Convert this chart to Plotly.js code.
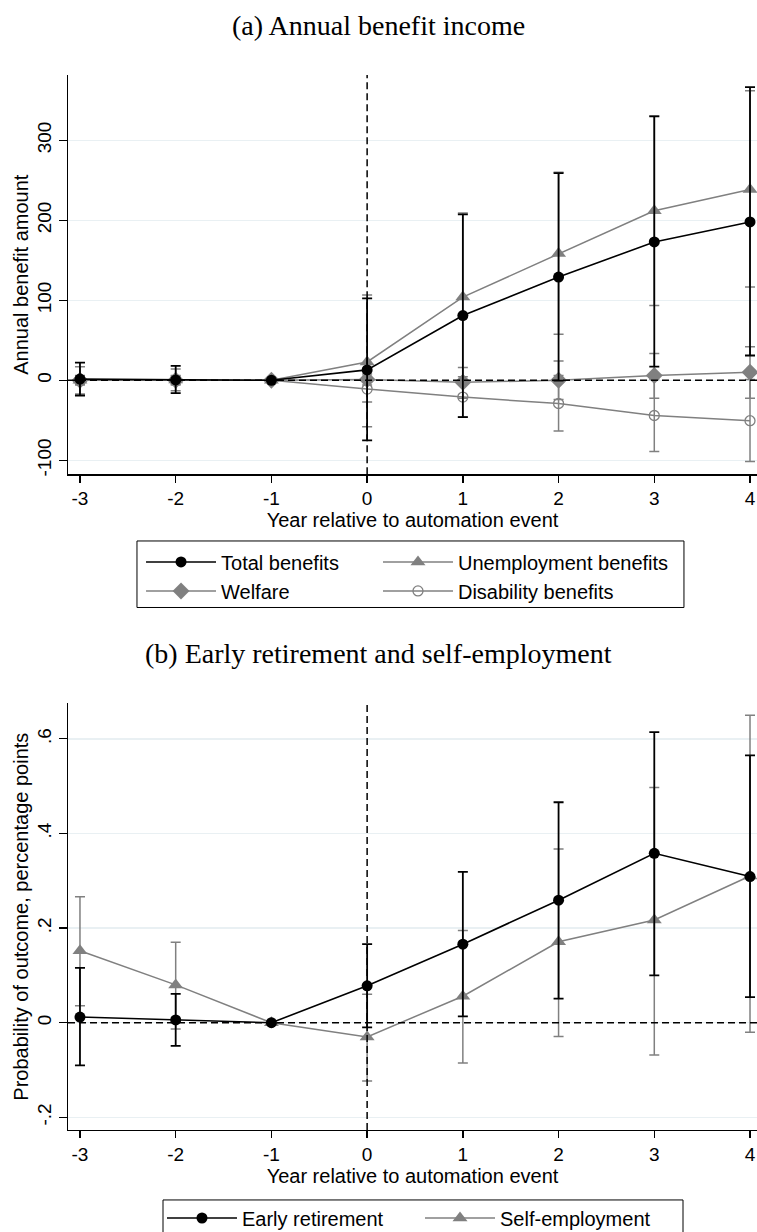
<!DOCTYPE html>
<html>
<head>
<meta charset="utf-8">
<script src="https://cdn.plot.ly/plotly-3.0.1.min.js"></script>
<style>
  html, body { margin: 0; padding: 0; background: #ffffff; }
  #chart { width: 757px; height: 1232px; }
</style>
</head>
<body>
<div id="chart"></div>
<script>
// Event-study estimates by year relative to the automation event
const years = [-3, -2, -1, 0, 1, 2, 3, 4];
const yearLabels = ['-3', '-2', '-1', '0', '1', '2', '3', '4'];

// (a) Annual benefit income: point estimates and 95% CI bounds
const totalBenefits   = [1.5, 0.5, 0, 13, 81, 129, 173, 198];
const totalHi         = [22, 18, null, 102.5, 207.5, 259, 330, 366.5];
const totalLo         = [-19, -16, null, -75, -46, -0.5, 17, 31];

const unemployment    = [0, 0.5, 0, 23, 104, 158.5, 212, 238.5];
const unemploymentHi  = [17, 14, null, 106.5, 209, 260, 330.5, 362];
const unemploymentLo  = [-17, -13, null, -58, -1, 57.5, 93.5, 116.5];

const welfare         = [0, 0, 0, 1, -2.5, 0, 6, 10];
const welfareHi       = [6, 6, null, 8, 16, 24, 33.5, 42];
const welfareLo       = [-6, -6, null, -6, -22.5, -24, -22.5, -22.5];

const disability      = [0, 0, 0, -11, -21, -29, -44, -50.5];
const disabilityHi    = [5, 5, null, 5, 4.5, 6, 1, 1];
const disabilityLo    = [-5, -5, null, -27, -46, -63.5, -89, -101.5];

const benefitTicks     = [-100, 0, 100, 200, 300];
const benefitTickText  = ['-100', '0', '100', '200', '300'];

// (b) Early retirement and self-employment (percentage points)
const earlyRetirement   = [0.012, 0.006, 0, 0.078, 0.166, 0.259, 0.358, 0.309];
const earlyRetirementHi = [0.116, 0.061, null, 0.166, 0.319, 0.466, 0.614, 0.565];
const earlyRetirementLo = [-0.090, -0.049, null, -0.010, 0.0135, 0.051, 0.100, 0.054];

const selfEmployment    = [0.152, 0.080, 0, -0.030, 0.056, 0.171, 0.217, 0.310];
const selfEmploymentHi  = [0.266, 0.170, null, 0.060, 0.195, 0.367, 0.497, 0.650];
const selfEmploymentLo  = [0.036, -0.013, null, -0.123, -0.085, -0.029, -0.068, -0.020];

const probTicks    = [-0.2, 0, 0.2, 0.4, 0.6];
const probTickText = ['-.2', '0', '.2', '.4', '.6'];

const BLACK = '#000000';
const GRAY = '#808080';
const SANS = 'Liberation Sans, Arial, sans-serif';
const SERIF = 'Liberation Serif, Times New Roman, serif';

// Asymmetric error bars from the CI bounds
function ciBars(vals, hi, lo, color, thick) {
  return {
    type: 'data',
    symmetric: false,
    array: vals.map((v, i) => hi[i] == null ? null : hi[i] - v),
    arrayminus: vals.map((v, i) => lo[i] == null ? null : v - lo[i]),
    color: color,
    thickness: thick,
    width: 5
  };
}

function series(name, vals, hi, lo, color, symbol, size, rank, xa, ya, legendId, lineW, barW, open) {
  return {
    type: 'scatter',
    mode: 'lines+markers',
    name: name,
    x: years,
    y: vals,
    xaxis: xa,
    yaxis: ya,
    legend: legendId,
    legendrank: rank,
    line: { color: color, width: lineW },
    marker: open
      ? { symbol: symbol, size: size, color: color, line: { color: color, width: 1.3 } }
      : { symbol: symbol, size: size, color: color, line: { width: 0 } },
    error_y: ciBars(vals, hi, lo, color, barW),
    hoverinfo: 'x+y+name'
  };
}

// Each legend column is its own legend so the two-column key lines up
const traces = [
  // grey series first so black estimates sit on top
  series('Disability benefits', disability, disabilityHi, disabilityLo, GRAY, 'circle-open', 10, 2, 'x', 'y', 'legend2', 1.5, 1.5, true),
  series('Welfare', welfare, welfareHi, welfareLo, GRAY, 'diamond', 13, 2, 'x', 'y', 'legend', 1.5, 1.5, false),
  series('Unemployment benefits', unemployment, unemploymentHi, unemploymentLo, GRAY, 'triangle-up', 13, 1, 'x', 'y', 'legend2', 1.5, 1.5, false),
  series('Total benefits', totalBenefits, totalHi, totalLo, BLACK, 'circle', 11, 1, 'x', 'y', 'legend', 1.6, 1.8, false),

  series('Self-employment', selfEmployment, selfEmploymentHi, selfEmploymentLo, GRAY, 'triangle-up', 13, 1, 'x2', 'y2', 'legend4', 1.5, 1.5, false),
  series('Early retirement', earlyRetirement, earlyRetirementHi, earlyRetirementLo, BLACK, 'circle', 11, 1, 'x2', 'y2', 'legend3', 1.6, 1.8, false)
];

const tickFont = { family: SANS, size: 19, color: BLACK };
const labelFont = { family: SANS, size: 20, color: BLACK };

function xAxis(anchor) {
  return {
    anchor: anchor,
    domain: [0, 1],
    range: [-3.125, 4.073],
    tickmode: 'array',
    tickvals: years,
    ticktext: yearLabels,
    ticks: 'outside',
    ticklen: 7,
    tickwidth: 1.3,
    tickcolor: BLACK,
    showline: true,
    linecolor: BLACK,
    linewidth: 1.3,
    showgrid: false,
    zeroline: false,
    tickfont: tickFont,
    title: { text: 'Year relative to automation event', font: labelFont, standoff: 1 }
  };
}

function yAxis(anchor, domain, range, tv, tt, title) {
  return {
    anchor: anchor,
    domain: domain,
    range: range,
    tickmode: 'array',
    tickvals: tv,
    ticktext: tt,
    tickangle: -90,
    ticks: 'outside',
    ticklen: 8,
    tickwidth: 1.3,
    tickcolor: BLACK,
    showline: true,
    linecolor: BLACK,
    linewidth: 1.3,
    showgrid: true,
    gridcolor: '#e9f0f3',
    gridwidth: 1.5,
    zeroline: false,
    tickfont: tickFont,
    title: { text: title, font: labelFont, standoff: 0 }
  };
}

// dashed reference lines at the event year and at zero effect
function refLines(xref, yref) {
  const dash = { color: BLACK, width: 1.5, dash: '7px,4px' };
  return [
    { type: 'line', layer: 'above', xref: xref, yref: yref + ' domain', x0: 0, x1: 0, y0: 0, y1: 1, line: dash },
    { type: 'line', layer: 'above', xref: xref + ' domain', yref: yref, x0: 0, x1: 1, y0: 0, y1: 0, line: dash }
  ];
}

// frame drawn around a pair of legend columns
function keyFrame(x0, x1, y0, y1) {
  return { type: 'rect', layer: 'above', xref: 'paper', yref: 'paper', x0: x0, x1: x1, y0: y0, y1: y1,
           line: { color: BLACK, width: 1 }, fillcolor: 'rgba(0,0,0,0)' };
}

function legendCol(x, y) {
  return {
    x: x, y: y, xanchor: 'left', yanchor: 'top',
    orientation: 'v',
    bgcolor: 'rgba(0,0,0,0)',
    borderwidth: 0,
    itemwidth: 70,
    tracegroupgap: 0,
    font: labelFont
  };
}

const layout = {
  width: 757,
  height: 1232,
  margin: { l: 68, r: 0, t: 0, b: 0, autoexpand: false },
  paper_bgcolor: '#ffffff',
  plot_bgcolor: '#ffffff',
  showlegend: true,
  xaxis: xAxis('y'),
  yaxis: yAxis('x', [0.615, 0.9391], [-117.5, 381.6], benefitTicks, benefitTickText, 'Annual benefit amount'),
  xaxis2: xAxis('y2'),
  yaxis2: yAxis('x2', [0.0828, 0.4291], [-0.2267, 0.675], probTicks, probTickText, 'Probability of outcome, percentage points'),
  legend: legendCol(0.1060, 0.5597),
  legend2: legendCol(0.4499, 0.5597),
  legend3: legendCol(0.1364, 0.0272),
  legend4: legendCol(0.5109, 0.0272),
  shapes: refLines('x', 'y').concat(refLines('x2', 'y2')).concat([
    keyFrame(0.1001, 0.8940, 0.5069, 0.5609),
    keyFrame(0.1379, 0.8926, -0.01, 0.0260)
  ]),
  annotations: [
    { text: '(a) Annual benefit income', xref: 'paper', yref: 'paper', x: 0.4507, y: 0.9789, xanchor: 'center', yanchor: 'middle', showarrow: false, font: { family: SERIF, size: 28, color: BLACK } },
    { text: '(b) Early retirement and self-employment', xref: 'paper', yref: 'paper', x: 0.4507, y: 0.4692, xanchor: 'center', yanchor: 'middle', showarrow: false, font: { family: SERIF, size: 28, color: BLACK } }
  ]
};

Plotly.newPlot('chart', traces, layout, { displayModeBar: false, staticPlot: true });
</script>
</body>
</html>
